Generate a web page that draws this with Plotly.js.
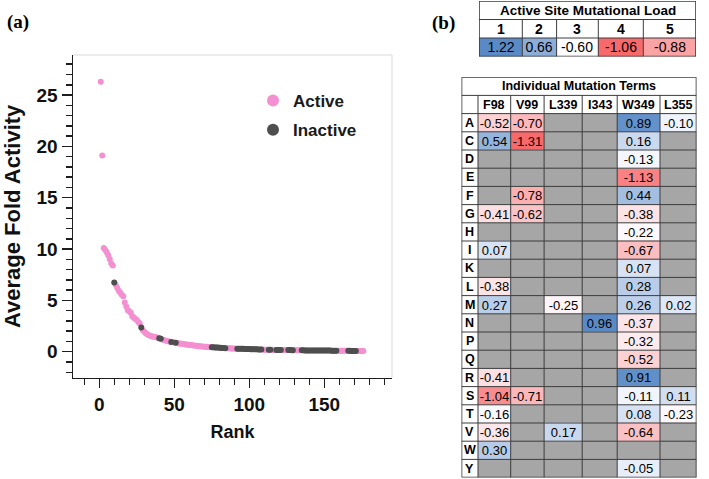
<!DOCTYPE html>
<html>
<head>
<meta charset="utf-8">
<script src="https://cdn.plot.ly/plotly-3.0.1.min.js"></script>
<style>
  html, body { margin: 0; padding: 0; background: #fff; }
  #chart { width: 709px; height: 479px; }
</style>
</head>
<body>
<div id="chart"></div>
<script>
// ---- (a) average fold activity of every variant, listed by rank ----
const foldActivity = [
  26.3, 19.1, 10.1, 9.9, 9.7, 9.4, 9.0, 8.6, 8.4, 6.75,
  6.5, 6.2, 5.95, 5.75, 5.55, 5.4, 4.8, 4.4, 4.05, 3.95,
  3.8, 3.45, 3.3, 3.2, 3.1, 2.9, 2.75, 2.35, 2.1, 1.95,
  1.8, 1.7, 1.6, 1.55, 1.5, 1.47, 1.44, 1.4, 1.36, 1.32,
  1.27, 1.2, 1.15, 1.1, 1.06, 1.02, 0.98, 0.95, 0.92, 0.9,
  0.87, 0.84, 0.81, 0.79, 0.77, 0.75, 0.73, 0.71, 0.69, 0.67,
  0.65, 0.63, 0.61, 0.59, 0.57, 0.55, 0.54, 0.52, 0.51, 0.49,
  0.48, 0.47, 0.46, 0.45, 0.44, 0.43, 0.42, 0.41, 0.40, 0.39,
  0.38, 0.37, 0.36, 0.35, 0.34, 0.33, 0.33, 0.32, 0.31, 0.31,
  0.30, 0.30, 0.29, 0.29, 0.28, 0.28, 0.27, 0.27, 0.26, 0.26,
  0.25, 0.25, 0.24, 0.23, 0.23, 0.22, 0.22, 0.21, 0.21, 0.20,
  0.20, 0.20, 0.19, 0.19, 0.19, 0.18, 0.18, 0.18, 0.18, 0.17,
  0.17, 0.17, 0.17, 0.16, 0.16, 0.16, 0.16, 0.15, 0.15, 0.15,
  0.15, 0.14, 0.14, 0.14, 0.14, 0.14, 0.13, 0.13, 0.13, 0.13,
  0.13, 0.12, 0.12, 0.12, 0.12, 0.12, 0.12, 0.11, 0.11, 0.11,
  0.11, 0.11, 0.11, 0.11, 0.10, 0.10, 0.10, 0.10, 0.10, 0.10,
  0.10, 0.09, 0.09, 0.09, 0.09, 0.09, 0.09, 0.08, 0.08, 0.08,
  0.08, 0.08, 0.08, 0.07, 0.07, 0.07
];
// A = active, I = inactive (same order as foldActivity)
const activityClass = (
  'AAAAAAAAAI AAAAAAAAAA AAAAAAAIAA AAAAAAAAAI IAAAAAAIAA ' +
  'IAAAAAAAAA AAAAAAAAAA AAAAIIIIII IIIIAAAAAA AIIIIIIIII ' +
  'IIIIIIIIAA AAIIAAAIII IAAAAIIIIA AAAAIIIIII IIIIIIIIII ' +
  'IIIIIIIIAA AAAAAIIIII IAAAAA'
).replace(/ /g, '').split('');

// ---- (b) active site mutational load ----
const loadLabels = ['1', '2', '3', '4', '5'];
const loadTerms = [1.22, 0.66, -0.60, -1.06, -0.88];

// ---- (b) individual mutation terms ----
const residues = ['F98', 'V99', 'L339', 'I343', 'W349', 'L355'];
const substitutions = ['A','C','D','E','F','G','H','I','K','L','M','N','P','Q','R','S','T','V','W','Y'];
const mutationTerms = [
  [-0.52, -0.70, null, null,  0.89, -0.10],
  [ 0.54, -1.31, null, null,  0.16, null],
  [ null,  null, null, null, -0.13, null],
  [ null,  null, null, null, -1.13, null],
  [ null, -0.78, null, null,  0.44, null],
  [-0.41, -0.62, null, null, -0.38, null],
  [ null,  null, null, null, -0.22, null],
  [ 0.07,  null, null, null, -0.67, null],
  [ null,  null, null, null,  0.07, null],
  [-0.38,  null, null, null,  0.28, null],
  [ 0.27,  null, -0.25, null, 0.26, 0.02],
  [ null,  null, null, 0.96, -0.37, null],
  [ null,  null, null, null, -0.32, null],
  [ null,  null, null, null, -0.52, null],
  [-0.41,  null, null, null,  0.91, null],
  [-1.04, -0.71, null, null, -0.11, 0.11],
  [-0.16,  null, null, null,  0.08, -0.23],
  [-0.36,  null, 0.17, null, -0.64, null],
  [ 0.30,  null, null, null,  null, null],
  [ null,  null, null, null, -0.05, null]
];

// ---- drawing ----
const W = 709, H = 479;
const px = v => v / W;
const py = v => 1 - v / H;
const SANS = 'Liberation Sans, Arial, sans-serif';
const SERIF = 'Liberation Serif, Times New Roman, serif';
const INK = '#1e1e1e';
const GRID = '#3c3c3c';

const fmt = v => (v === null ? '' : v.toFixed(2));
const median = arr => {
  const s = arr.filter(v => v !== null).sort((a, b) => a - b);
  const m = Math.floor(s.length / 2);
  return s.length % 2 ? s[m] : (s[m - 1] + s[m]) / 2;
};
// three-colour scale: lowest red, median white, highest blue
function divergingScale(values) {
  const flat = values.filter(v => v !== null);
  const lo = Math.min(...flat), hi = Math.max(...flat), mid = median(flat);
  return {
    zmin: lo, zmax: hi,
    colorscale: [[0, '#F8696B'], [(mid - lo) / (hi - lo), '#FCFCFF'], [1, '#5A8AC6']]
  };
}
const edgesFrom = widths => widths.reduce((acc, w) => { acc.push(acc[acc.length - 1] + w); return acc; }, [0]);

// scatter points split by class
const ranks = foldActivity.map((_, i) => i + 1);
function byClass(cls) {
  const x = [], y = [];
  foldActivity.forEach((v, i) => { if (activityClass[i] === cls) { x.push(ranks[i]); y.push(v); } });
  return { x, y };
}
const act = byClass('A'), inact = byClass('I');

const traces = [
  { type: 'scatter', mode: 'markers', name: 'Active', x: act.x, y: act.y,
    legendgroup: 'g1', marker: { color: '#f48fd1', size: 6 }, hoverinfo: 'x+y' },
  { type: 'scatter', mode: 'markers', name: 'Inactive', x: inact.x, y: inact.y,
    legendgroup: 'g2', marker: { color: '#4e4e4e', size: 6 }, hoverinfo: 'x+y' }
];

// table 1 geometry (column widths in px units of the axis)
const loadEdges = edgesFrom([43.3, 34.3, 41.7, 45, 52.7]);
const loadWidth = loadEdges[loadEdges.length - 1];
const loadScale = divergingScale(loadTerms);
traces.push({
  type: 'heatmap', xaxis: 'x2', yaxis: 'y2', showscale: false, hoverinfo: 'skip',
  x: loadEdges, y: [2, 3], z: [loadTerms], text: [loadTerms.map(fmt)],
  texttemplate: '%{text}', textfont: { family: SANS, size: 14, color: '#000' },
  zmin: loadScale.zmin, zmax: loadScale.zmax, colorscale: loadScale.colorscale
});

// table 2 geometry
const termEdges = edgesFrom([16.5, 32.7, 33.4, 38.1, 35, 42.8, 36.5]);
const termWidth = termEdges[termEdges.length - 1];
const nRows = substitutions.length + 2;
const rowEdges = [2].concat(substitutions.map((_, i) => i + 3));
const termScale = divergingScale(mutationTerms.flat());
// cells without a term are shaded grey
traces.push({
  type: 'heatmap', xaxis: 'x3', yaxis: 'y3', showscale: false, hoverinfo: 'skip',
  x: termEdges.slice(1), y: rowEdges,
  z: mutationTerms.map(r => r.map(v => (v === null ? 0 : null))),
  zmin: 0, zmax: 1, colorscale: [[0, '#a6a6a6'], [1, '#a6a6a6']]
});
traces.push({
  type: 'heatmap', xaxis: 'x3', yaxis: 'y3', showscale: false, hoverinfo: 'skip',
  x: termEdges.slice(1), y: rowEdges, z: mutationTerms,
  text: mutationTerms.map(r => r.map(fmt)), texttemplate: '%{text}',
  textfont: { family: SANS, size: 13, color: '#000' },
  zmin: termScale.zmin, zmax: termScale.zmax, colorscale: termScale.colorscale
});

// grid lines of both tables
const shapes = [];
function tableGrid(xr, yr, edges, rows) {
  const total = edges[edges.length - 1];
  for (let r = 0; r <= rows; r++) {
    const outer = r === 0 || r === rows;
    shapes.push({ type: 'line', xref: xr, yref: yr, x0: 0, x1: total, y0: r, y1: r,
      line: { color: GRID, width: outer ? 1.6 : 1 }, layer: 'above' });
  }
  edges.forEach((e, i) => {
    const outer = i === 0 || i === edges.length - 1;
    shapes.push({ type: 'line', xref: xr, yref: yr, x0: e, x1: e, y0: outer ? 0 : 1, y1: rows,
      line: { color: GRID, width: outer ? 1.6 : 1 }, layer: 'above' });
  });
}
tableGrid('x2', 'y2', loadEdges, 3);
tableGrid('x3', 'y3', termEdges, nRows);

// light frame along the top and right of the scatter panel
shapes.push({ type: 'line', xref: 'x domain', yref: 'y domain', x0: 0, x1: 1, y0: 1, y1: 1,
  line: { color: '#d9d9d9', width: 1 } });
shapes.push({ type: 'line', xref: 'x domain', yref: 'y domain', x0: 1, x1: 1, y0: 0, y1: 1,
  line: { color: '#d9d9d9', width: 1 } });

// panel letters and table labels
const annotations = [
  { text: '(a)', xref: 'paper', yref: 'paper', x: px(18), y: py(22), xanchor: 'center', yanchor: 'middle',
    showarrow: false, font: { family: SERIF, size: 19, weight: 'bold', color: '#000' } },
  { text: '(b)', xref: 'paper', yref: 'paper', x: px(443), y: py(23), xanchor: 'center', yanchor: 'middle',
    showarrow: false, font: { family: SERIF, size: 19, weight: 'bold', color: '#000' } },
  { text: 'Active Site Mutational Load', xref: 'x2', yref: 'y2', x: loadWidth / 2, y: 0.5,
    showarrow: false, font: { family: SANS, size: 13.5, weight: 'bold', color: '#000' } },
  { text: 'Individual Mutation Terms', xref: 'x3', yref: 'y3', x: termWidth / 2, y: 0.5,
    showarrow: false, font: { family: SANS, size: 12.5, weight: 'bold', color: '#000' } }
];
loadLabels.forEach((lab, i) => annotations.push({
  text: lab, xref: 'x2', yref: 'y2', x: (loadEdges[i] + loadEdges[i + 1]) / 2, y: 1.5,
  showarrow: false, font: { family: SANS, size: 14, weight: 'bold', color: '#000' }
}));
residues.forEach((lab, i) => annotations.push({
  text: lab, xref: 'x3', yref: 'y3', x: (termEdges[i + 1] + termEdges[i + 2]) / 2, y: 1.5,
  showarrow: false, font: { family: SANS, size: 12.5, weight: 'bold', color: '#000' }
}));
substitutions.forEach((lab, i) => annotations.push({
  text: lab, xref: 'x3', yref: 'y3', x: (termEdges[0] + termEdges[1]) / 2, y: i + 2.5,
  showarrow: false, font: { family: SANS, size: 12.5, weight: 'bold', color: '#000' }
}));

const hidden = { visible: false, fixedrange: true };
const layout = {
  width: W, height: H,
  margin: { l: 0, r: 0, t: 0, b: 0 },
  paper_bgcolor: '#fff', plot_bgcolor: 'rgba(0,0,0,0)',
  showlegend: true,
  legend: {
    x: px(253), y: py(83), xanchor: 'left', yanchor: 'top',
    font: { family: SANS, size: 17, weight: 'bold', color: '#1a1a1a' },
    itemsizing: 'constant', traceorder: 'grouped', tracegroupgap: 4,
    bgcolor: 'rgba(0,0,0,0)'
  },
  xaxis: {
    domain: [px(73), px(392)], range: [-17.5, 195.1], anchor: 'y',
    showgrid: false, zeroline: false, showline: true, linecolor: INK, linewidth: 1.5,
    ticks: 'outside', ticklen: 9, tickwidth: 1.5, tickcolor: INK,
    dtick: 50, tick0: 0,
    minor: { dtick: 10, ticks: 'outside', ticklen: 6, tickwidth: 1.5, tickcolor: INK },
    tickfont: { family: SANS, size: 19, weight: 'bold', color: '#111' },
    title: { text: 'Rank', standoff: 11, font: { family: SANS, size: 18, weight: 'bold', color: '#111' } }
  },
  yaxis: {
    domain: [py(377.7), py(55)], range: [-2.53, 28.9], anchor: 'x',
    showgrid: false, zeroline: false, showline: true, linecolor: INK, linewidth: 1.5,
    ticks: 'outside', ticklen: 10, tickwidth: 1.5, tickcolor: INK,
    dtick: 5, tick0: 0,
    minor: { dtick: 1, ticks: 'outside', ticklen: 6, tickwidth: 1.5, tickcolor: INK },
    tickfont: { family: SANS, size: 19, weight: 'bold', color: '#111' },
    title: { text: 'Average Fold Activity', font: { family: SANS, size: 22, weight: 'bold', color: '#111' } }
  },
  xaxis2: Object.assign({ domain: [px(479), px(479 + loadWidth)], range: [0, loadWidth], anchor: 'y2' }, hidden),
  yaxis2: Object.assign({ domain: [py(56.5), py(1)], range: [3, 0], anchor: 'x2' }, hidden),
  xaxis3: Object.assign({ domain: [px(461.5), px(461.5 + termWidth)], range: [0, termWidth], anchor: 'y3' }, hidden),
  yaxis3: Object.assign({ domain: [py(477.6), py(77.2)], range: [nRows, 0], anchor: 'x3' }, hidden),
  shapes: shapes,
  annotations: annotations
};

Plotly.newPlot('chart', traces, layout, { staticPlot: true, displayModeBar: false });
</script>
</body>
</html>
